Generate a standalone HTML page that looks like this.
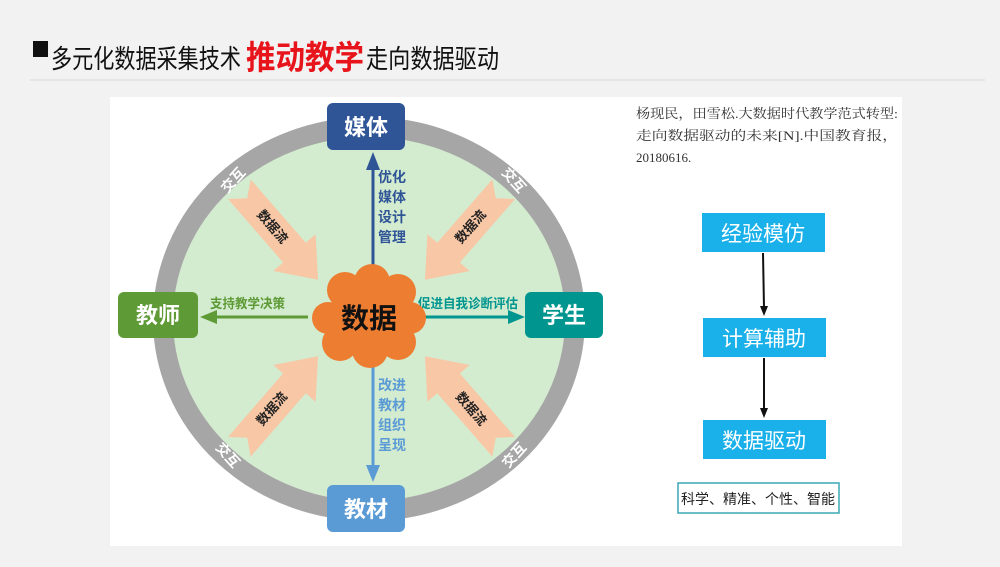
<!DOCTYPE html>
<html><head><meta charset="utf-8"><style>
body{margin:0;width:1000px;height:562px;overflow:hidden;background:#f2f2f2;font-family:"Liberation Sans","Noto Sans CJK SC",sans-serif}
</style></head><body>
<svg width="1000" height="562" viewBox="0 0 1000 562" xmlns="http://www.w3.org/2000/svg" font-family="Liberation Sans, Noto Sans CJK SC, sans-serif">
<rect width="1000" height="562" fill="#f2f2f2"/>
<rect x="33" y="41" width="15" height="16" fill="#111"/>
<text x="51" y="68" font-size="26" fill="#111" textLength="190" lengthAdjust="spacingAndGlyphs">多元化数据采集技术</text>
<text x="246" y="69" font-size="33" font-weight="bold" fill="#e8141b" textLength="118" lengthAdjust="spacingAndGlyphs">推动教学</text>
<text x="366" y="68" font-size="26" fill="#111" textLength="133" lengthAdjust="spacingAndGlyphs">走向数据驱动</text>
<line x1="30" y1="80" x2="985" y2="80" stroke="#d8d8d8" stroke-width="1"/>
<rect x="110" y="97" width="792" height="449" fill="#fff"/>
<ellipse cx="369" cy="319" rx="206" ry="192" fill="#d3ebcf" stroke="#a6a6a6" stroke-width="20"/>
<defs>
<g id="pa"><polygon points="-15,-62 0,-50 15,-62 15,22 28,22 0,58 -28,22 -15,22" fill="#f8c7a6"/></g>
</defs>
<g transform="translate(280,236) rotate(-41)"><use href="#pa"/><text x="0" y="-12" font-size="13" font-weight="bold" fill="#222" text-anchor="middle" transform="rotate(90 0 -12)" dy="4">数据流</text></g>
<g transform="translate(463,236) rotate(41)"><use href="#pa"/><text x="0" y="-12" font-size="13" font-weight="bold" fill="#222" text-anchor="middle" transform="rotate(-90 0 -12)" dy="4">数据流</text></g>
<g transform="translate(280,400) rotate(-139)"><use href="#pa"/><text x="0" y="-12" font-size="13" font-weight="bold" fill="#222" text-anchor="middle" transform="rotate(90 0 -12)" dy="4">数据流</text></g>
<g transform="translate(463,400) rotate(139)"><use href="#pa"/><text x="0" y="-12" font-size="13" font-weight="bold" fill="#222" text-anchor="middle" transform="rotate(-90 0 -12)" dy="4">数据流</text></g>
<g font-size="14" font-weight="bold" fill="#fff" text-anchor="middle">
<text transform="translate(233,180) rotate(-48)" dy="5">交互</text>
<text transform="translate(514,180) rotate(48)" dy="5">交互</text>
<text transform="translate(228,455) rotate(48)" dy="5">交互</text>
<text transform="translate(514,455) rotate(-48)" dy="5">交互</text>
</g>
<line x1="373" y1="268" x2="373" y2="168" stroke="#2f5597" stroke-width="3"/>
<polygon points="366,170 380,170 373,152" fill="#2f5597"/>
<line x1="373" y1="360" x2="373" y2="467" stroke="#5b9bd5" stroke-width="3"/>
<polygon points="366,465 380,465 373,482" fill="#5b9bd5"/>
<line x1="308" y1="317" x2="215" y2="317" stroke="#5e9b36" stroke-width="3"/>
<polygon points="217,310 217,324 200,317" fill="#5e9b36"/>
<line x1="423" y1="317" x2="510" y2="317" stroke="#00968f" stroke-width="3"/>
<polygon points="508,310 508,324 525,317" fill="#00968f"/>
<g font-size="14" font-weight="bold" fill="#2f5597">
<text x="378" y="182">优化</text><text x="378" y="202">媒体</text><text x="378" y="222">设计</text><text x="378" y="242">管理</text>
</g>
<g font-size="14" font-weight="bold" fill="#5b9bd5">
<text x="378" y="390">改进</text><text x="378" y="410">教材</text><text x="378" y="430">组织</text><text x="378" y="450">呈现</text>
</g>
<text x="210" y="308" font-size="13" font-weight="bold" fill="#5e9b36" textLength="75" lengthAdjust="spacingAndGlyphs">支持教学决策</text>
<text x="418" y="308" font-size="13" font-weight="bold" fill="#00968f" textLength="100" lengthAdjust="spacingAndGlyphs">促进自我诊断评估</text>
<g fill="#ed7d31">
<circle cx="345" cy="290" r="18"/><circle cx="372" cy="282" r="18"/><circle cx="398" cy="292" r="18"/>
<circle cx="410" cy="318" r="16"/><circle cx="398" cy="342" r="18"/><circle cx="370" cy="350" r="18"/>
<circle cx="340" cy="343" r="18"/><circle cx="328" cy="318" r="16"/>
<ellipse cx="370" cy="316" rx="42" ry="32"/>
</g>
<text x="369" y="328" font-size="28" font-weight="bold" fill="#111" text-anchor="middle">数据</text>
<rect x="327" y="103" width="78" height="47" rx="6" fill="#2f5597"/>
<text x="366" y="135" font-size="22" font-weight="bold" fill="#fff" text-anchor="middle">媒体</text>
<rect x="327" y="485" width="78" height="47" rx="6" fill="#5b9bd5"/>
<text x="366" y="517" font-size="22" font-weight="bold" fill="#fff" text-anchor="middle">教材</text>
<rect x="118" y="292" width="80" height="46" rx="6" fill="#5e9b36"/>
<text x="158" y="323" font-size="22" font-weight="bold" fill="#fff" text-anchor="middle">教师</text>
<rect x="525" y="292" width="78" height="46" rx="6" fill="#00968f"/>
<text x="564" y="323" font-size="22" font-weight="bold" fill="#fff" text-anchor="middle">学生</text>
<g font-family="Liberation Serif, Noto Serif CJK SC, serif" font-size="13" fill="#333">
<text x="636" y="118" textLength="262" lengthAdjust="spacingAndGlyphs">杨现民，田雪松.大数据时代教学范式转型:</text>
<text x="636" y="140" textLength="262" lengthAdjust="spacingAndGlyphs">走向数据驱动的未来[N].中国教育报，</text>
<text x="636" y="162">20180616.</text>
</g>
<rect x="702" y="213" width="123" height="39" fill="#1ab0ea"/>
<text x="763" y="241" font-size="21" fill="#fff" text-anchor="middle">经验模仿</text>
<rect x="703" y="318" width="123" height="39" fill="#1ab0ea"/>
<text x="764" y="346" font-size="21" fill="#fff" text-anchor="middle">计算辅助</text>
<rect x="703" y="420" width="123" height="39" fill="#1ab0ea"/>
<text x="764" y="448" font-size="21" fill="#fff" text-anchor="middle">数据驱动</text>
<line x1="763" y1="253" x2="764" y2="308" stroke="#111" stroke-width="2"/>
<polygon points="760,306 768,306 764,316" fill="#111"/>
<line x1="764" y1="358" x2="764" y2="410" stroke="#111" stroke-width="2"/>
<polygon points="760,408 768,408 764,418" fill="#111"/>
<rect x="678" y="483" width="161" height="30" fill="#fff" stroke="#3aa9b5" stroke-width="1.5"/>
<text x="758" y="504" font-size="14" fill="#222" text-anchor="middle">科学、精准、个性、智能</text>
</svg>
</body></html>
